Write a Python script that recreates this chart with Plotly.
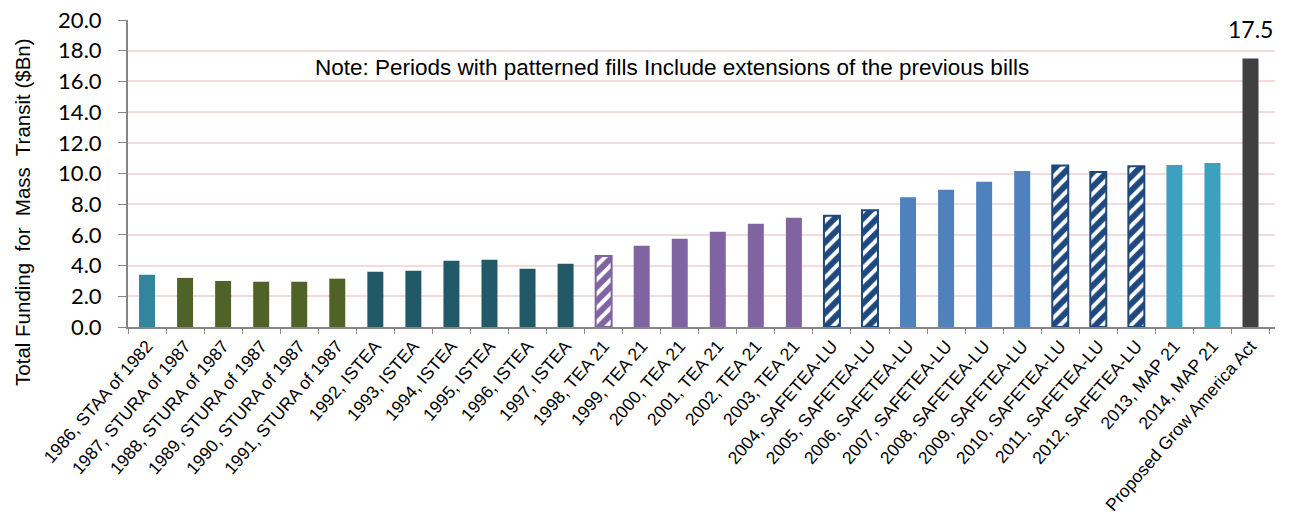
import plotly.graph_objects as go

categories = [
    "1986, STAA of 1982", "1987, STURA of 1987", "1988, STURA of 1987", "1989, STURA of 1987",
    "1990, STURA of 1987", "1991, STURA of 1987", "1992, ISTEA", "1993, ISTEA", "1994, ISTEA",
    "1995, ISTEA", "1996, ISTEA", "1997, ISTEA", "1998, TEA 21", "1999, TEA 21", "2000, TEA 21",
    "2001, TEA 21", "2002, TEA 21", "2003, TEA 21", "2004, SAFETEA-LU", "2005, SAFETEA-LU",
    "2006, SAFETEA-LU", "2007, SAFETEA-LU", "2008, SAFETEA-LU", "2009, SAFETEA-LU",
    "2010, SAFETEA-LU", "2011, SAFETEA-LU", "2012, SAFETEA-LU", "2013, MAP 21", "2014, MAP 21",
    "Proposed Grow America Act",
]
funding = [3.4, 3.2, 3.0, 2.95, 2.95, 3.15, 3.6, 3.67, 4.32, 4.38, 3.8, 4.12, 4.62, 5.29, 5.75,
           6.2, 6.72, 7.11, 7.24, 7.61, 8.46, 8.94, 9.46, 10.17, 10.52, 10.09, 10.48, 10.56, 10.69,
           17.5]
# extension periods (patterned fills)
extension = [False] * 12 + [True] + [False] * 5 + [True, True] + [False] * 4 + [True, True, True] + [False] * 3

bill_colors = {
    "STAA": "#31859C", "STURA": "#4F6228", "ISTEA": "#215968", "TEA 21": "#8064A2",
    "SAFETEA-LU": "#4F81BD", "MAP 21": "#3CA0BE", "Grow America": "#404040",
}
pattern_colors = {"TEA 21": "#8064A2", "SAFETEA-LU": "#1F497D"}


def bill_of(label):
    for k in bill_colors:
        if k in label:
            return k
    return "Grow America"


fig = go.Figure()

# solid bars
sx, sy, sc = [], [], []
for lab, v, ext in zip(categories, funding, extension):
    if not ext:
        sx.append(lab); sy.append(v); sc.append(bill_colors[bill_of(lab)])
fig.add_trace(go.Bar(x=sx, y=sy, marker=dict(color=sc, line=dict(width=0))))

# patterned bars (extensions), one trace per bill
for bill, pc in pattern_colors.items():
    px_, py_ = [], []
    for lab, v, ext in zip(categories, funding, extension):
        if ext and bill_of(lab) == bill:
            px_.append(lab); py_.append(v)
    fig.add_trace(go.Bar(
        x=px_, y=py_,
        marker=dict(color="white", opacity=1, line=dict(color=pc, width=2),
                    pattern=dict(shape="/", fgcolor=pc, bgcolor="white", fgopacity=1,
                                 size=10, solidity=0.6)),
    ))

fig.add_annotation(
    x=categories[-1], y=funding[-1], text=f"{funding[-1]:.1f}",
    showarrow=False, yanchor="bottom", yshift=13,
    font=dict(family="Lato", size=23, color="#000000"),
)

fig.add_annotation(
    text="Note: Periods with patterned fills Include extensions of the previous bills",
    xref="paper", yref="y", x=0.474, y=16.9, showarrow=False,
    font=dict(family="Liberation Sans, Arial", size=22.5, color="#000000"),
)

# y-axis title (placed as in the original, centred lower than the plot area)
fig.add_annotation(
    text="Total Funding  for  Mass  Transit ($Bn)",
    xref="paper", yref="paper", x=-0.0915, y=0.375, xanchor="center", yanchor="middle",
    textangle=-90, showarrow=False,
    font=dict(family="Liberation Sans, Arial", size=20.5, color="#000000"),
)

fig.update_layout(
    width=1289, height=525,
    margin=dict(l=128, r=14, t=20, b=198, autoexpand=False),
    plot_bgcolor="white", paper_bgcolor="white",
    bargap=0.58, barmode="overlay", showlegend=False,
)
fig.update_xaxes(
    categoryorder="array", categoryarray=categories, automargin=False,
    tickangle=-49, tickfont=dict(family="Liberation Sans, Arial", size=17.5, color="#000000"),
    showline=True, linecolor="#868686", linewidth=2,
    ticks="outside", tickson="boundaries", ticklen=5, tickcolor="#868686", tickwidth=1,
    showgrid=False,
)
fig.update_yaxes(
    range=[0, 20], dtick=2, tickformat=".1f", automargin=False,
    tickfont=dict(family="Lato", size=22, color="#000000"),
    showline=True, linecolor="#868686", linewidth=2,
    ticks="outside", ticklen=8, tickcolor="#868686", ticklabelstandoff=12,
    showgrid=True, gridcolor="#F2DCDB", gridwidth=1.5, zeroline=False,
)

fig.write_html("out.html")
